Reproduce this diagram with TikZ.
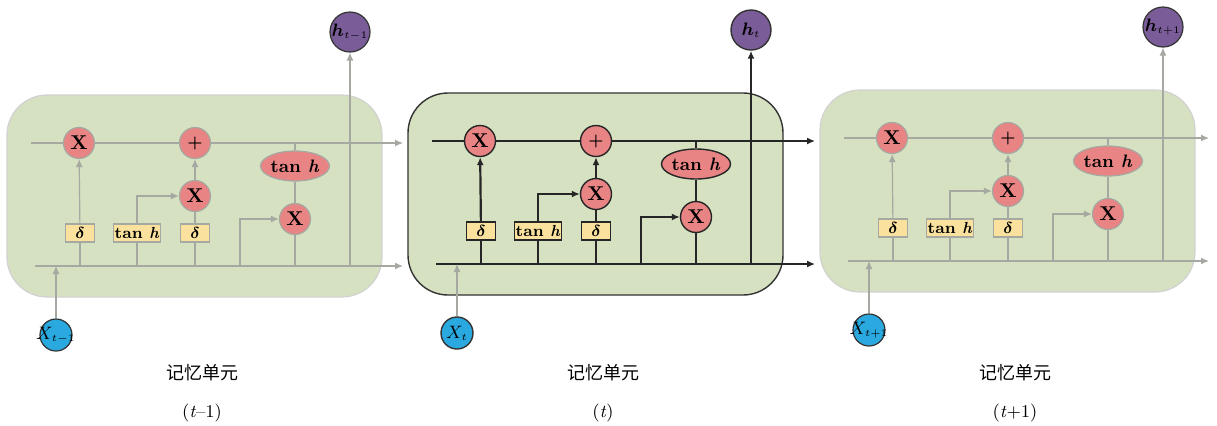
\documentclass[tikz,border=0pt]{standalone}
\usepackage{fontspec}
\usepackage{bm}
\newfontfamily\cjk{Noto Sans CJK SC}
\usetikzlibrary{arrows.meta,shapes.geometric}
\definecolor{cellgreen}{HTML}{D5E1C0}
\definecolor{gatered}{HTML}{E88484}
\definecolor{gateyellow}{HTML}{FAE29E}
\definecolor{outpurple}{HTML}{7A5C98}
\definecolor{inblue}{HTML}{29A9E0}
\definecolor{fadeline}{HTML}{A5A9A2}
\tikzset{zgate/.style={
  circle,
  fill=gatered,
  inner sep=0pt,
  minimum size=15.5pt,
  font=\bfseries}}
\tikzset{zsquash/.style={
  ellipse,
  fill=gatered,
  inner sep=0pt,
  minimum width=32.5pt,
  minimum height=15pt,
  font=\small\bfseries}}
\tikzset{zact/.style={
  rectangle,
  fill=gateyellow,
  inner sep=0pt,
  minimum width=14.5pt,
  minimum height=9pt,
  font=\footnotesize\bfseries}}
\tikzset{zout/.style={
  circle,
  draw=black!80,
  fill=outpurple,
  inner sep=0pt,
  minimum size=20pt,
  font=\small}}
\tikzset{zin/.style={
  circle,
  draw=black!80,
  fill=inblue,
  inner sep=0pt,
  minimum size=16pt,
  font=\small}}
\tikzset{zwire/.style={
  -{Latex[length=4pt,width=3.5pt]}}}

\begin{document}
\begin{tikzpicture}[x=0.5pt,y=-0.5pt]
  \useasboundingbox (0,0) rectangle (1217,425);

  %% one memory cell per step: shift, line colour, widths, arrow end, labels
  \foreach \c/\ox/\oy/\ln/\bx/\lw/\tw/\ae/\hn/\xn/\tn in {
      1/7/95/fadeline/gray!35/0.6pt/0.6pt/396/{t-1}/{t-1}/{(\textit{t}--1)},
      2/408/93/black!85/black!80/0.7pt/1.1pt/407/{t}/{t}/{(\textit{t})},
      3/820/90/fadeline/gray!35/0.6pt/0.6pt/389/{t+1}/{t+1}/{(\textit{t}+1)}}{
    \begin{scope}[shift={(\ox,\oy)},line width=\lw,draw=\ln]
      %% cell body
      \draw[draw=\bx,fill=cellgreen,rounded corners=20pt] (0,0) rectangle (375,202);

      %% gates
      \node[zgate,draw=\ln] (m1-\c) at (72,48) {X};
      \node[zgate,draw=\ln,font=\footnotesize\bfseries] (add-\c) at (188,48) {+};
      \node[zgate,draw=\ln] (m2-\c) at (188,101) {X};
      \node[zsquash,draw=\ln] (sq-\c) at (288,71) {tan \textit{h}};
      \node[zgate,draw=\ln] (m3-\c) at (288,124) {X};
      \node[zact,draw=\ln] (f-\c) at (73,138) {$\bm{\delta}$};
      \node[zact,draw=\ln,minimum width=23.5pt] (g-\c) at (130,138) {tan \textit{h}};
      \node[zact,draw=\ln] (i-\c) at (188,138) {$\bm{\delta}$};
      \node[zout] (h-\c) at (343,-63) {\makebox[0pt]{$\bm{h}_{\scriptscriptstyle\hn}$}};
      \node[zin] (x-\c) at (49,240) {\makebox[0pt]{$X_{\scriptscriptstyle\xn}$}};

      %% ends of the two long lines
      \coordinate (cin-\c) at (24,48);
      \coordinate (cout-\c) at (\ae,48);
      \coordinate (hin-\c) at (28,171);
      \coordinate (hout-\c) at (\ae,171);
      \coordinate (step-\c) at (233,171);

      %% cell state line
      \draw (cin-\c) -- (m1-\c);
      \draw (m1-\c) -- (add-\c);
      \draw[zwire] (add-\c) -- (cout-\c);
      \draw (sq-\c) -- (sq-\c |- cin-\c);
      \draw (sq-\c) -- (m3-\c);

      %% hidden line and gate inputs
      \draw (hin-\c) -- (m3-\c |- hin-\c);
      \draw[zwire] (step-\c) |- (m3-\c);
      \draw[line width=\tw] (f-\c) -- (f-\c |- hin-\c);
      \draw (g-\c) -- (g-\c |- hin-\c);
      \draw (i-\c) -- (i-\c |- hin-\c);
      \draw[zwire,line width=\tw] (f-\c) -- (m1-\c);
      \draw[zwire] (g-\c) |- (m2-\c);
      \draw (i-\c) -- (m2-\c);
      \draw[zwire,line width=\tw] (m2-\c) -- (add-\c);

      %% outputs
      \draw[zwire] (m3-\c) |- (hout-\c);
      \draw[zwire,line width=\tw] (h-\c |- hin-\c) -- (h-\c);
      \draw[zwire,draw=fadeline,line width=0.6pt] (x-\c) -- (x-\c |- hin-\c);
    \end{scope}

    %% captions
    \node[font=\cjk\small] (cap-\c) at (\ox+195,373) {记忆单元};
    \node[font=\small] (time-\c) at (\ox+195,413) {\tn};
  }
\end{tikzpicture}
\end{document}
